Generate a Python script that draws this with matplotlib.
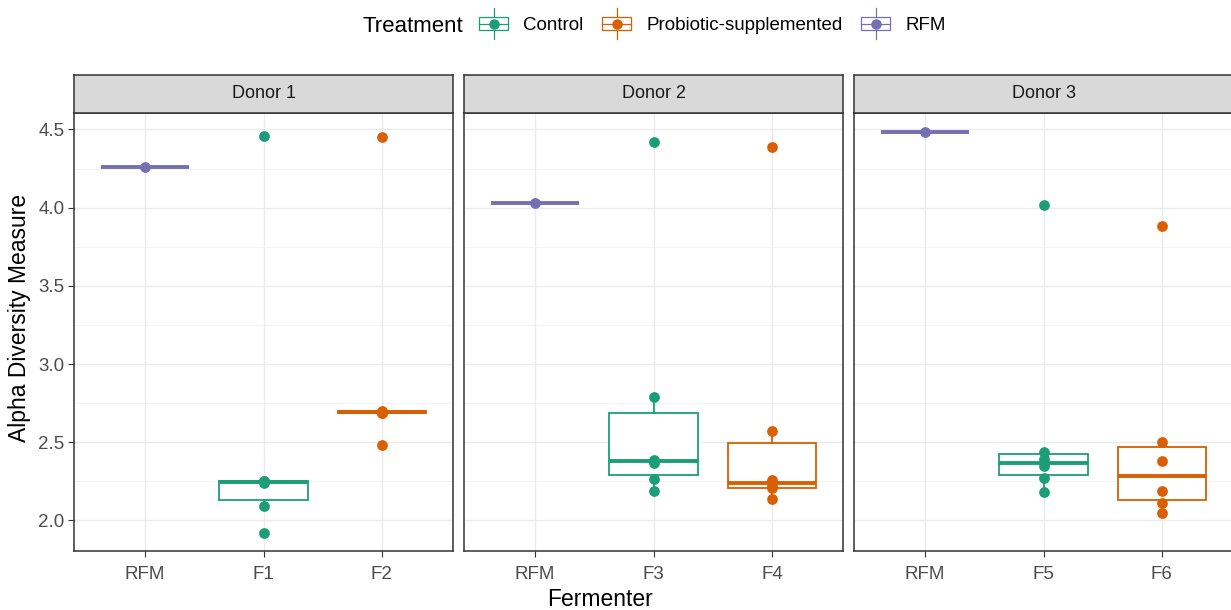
import matplotlib
matplotlib.use("Agg")
import matplotlib.pyplot as plt
from matplotlib.legend_handler import HandlerBase
from matplotlib.patches import Rectangle
from matplotlib.lines import Line2D

plt.rcParams['font.family'] = ['Liberation Sans', 'DejaVu Sans']

donors = ["Donor 1", "Donor 2", "Donor 3"]
fermenters = [["RFM", "F1", "F2"], ["RFM", "F3", "F4"], ["RFM", "F5", "F6"]]
treatments = ["Control", "Probiotic-supplemented", "RFM"]
colors = {"Control": "#1B9E77", "Probiotic-supplemented": "#D95F02", "RFM": "#7570B3"}

# alpha diversity per fermenter
rfm = [4.26, 4.03, 4.485]
f1 = [1.92, 2.095, 2.24, 2.25, 2.255, 4.46]
f2 = [2.48, 2.685, 2.69, 2.695, 2.70, 4.45]
f3 = [2.19, 2.265, 2.37, 2.385, 2.79, 4.42]
f4 = [2.14, 2.205, 2.218, 2.262, 2.57, 4.39]
f5 = [2.18, 2.27, 2.35, 2.39, 2.44, 4.02]
f6 = [2.05, 2.11, 2.19, 2.38, 2.50, 3.88]

panel_data = [
    [([rfm[0]], "RFM"), (f1, "Control"), (f2, "Probiotic-supplemented")],
    [([rfm[1]], "RFM"), (f3, "Control"), (f4, "Probiotic-supplemented")],
    [([rfm[2]], "RFM"), (f5, "Control"), (f6, "Probiotic-supplemented")],
]

yticks = [2.0, 2.5, 3.0, 3.5, 4.0, 4.5]
minor_ticks = [2.25, 2.75, 3.25, 3.75, 4.25]


class BoxKey(HandlerBase):
    def create_artists(self, legend, orig_handle, xdescent, ydescent,
                       width, height, fontsize, trans):
        c = orig_handle.get_color()
        cx = width / 2 - xdescent
        cy = height / 2 - ydescent
        bw, bh = width * 1.0, height * 0.85
        rect = Rectangle((cx - bw / 2, cy - bh / 2), bw, bh, facecolor="white",
                         edgecolor=c, lw=0.9, transform=trans)
        vline = Line2D([cx, cx], [cy - height * 1.0, cy + height * 1.0],
                       color=c, lw=0.9, transform=trans)
        hline = Line2D([cx - bw / 2, cx + bw / 2], [cy, cy], color=c, lw=0.9,
                       transform=trans)
        dot = Line2D([cx], [cy], marker="o", ms=6.5, color=c, mec=c,
                     transform=trans)
        return [vline, rect, hline, dot]


W, H = 1231, 610
fig = plt.figure(figsize=(W / 100, H / 100), dpi=100)

left0 = 74 / W
pw = 379 / W
gap = 11 / W
bottom = 1 - 551 / H
ph = (551 - 113) / H
sh = 38 / H

for i, donor in enumerate(donors):
    x0 = left0 + i * (pw + gap)
    ax = fig.add_axes([x0, bottom, pw, ph])
    for y in yticks:
        ax.axhline(y, color="#EBEBEB", lw=1.0, zorder=0)
    for y in minor_ticks:
        ax.axhline(y, color="#F2F2F2", lw=0.6, zorder=0)
    for p in range(1, 4):
        ax.axvline(p, color="#EBEBEB", lw=1.0, zorder=0)

    for p, (vals, trt) in enumerate(panel_data[i], start=1):
        c = colors[trt]
        ax.boxplot([vals], positions=[p], widths=0.75, showfliers=False,
                   showcaps=False, whis=1.5, patch_artist=True,
                   boxprops=dict(facecolor="white", edgecolor=c, lw=1.3),
                   whiskerprops=dict(color=c, lw=1.3),
                   medianprops=dict(color=c, lw=2.8, solid_capstyle="butt"),
                   zorder=2)
        ax.scatter([p] * len(vals), vals, s=60, color=c, zorder=3, lw=0)

    ax.set_xlim(0.4, 3.6)
    ax.set_ylim(1.805, 4.605)
    ax.set_xticks([1, 2, 3])
    ax.set_xticklabels(fermenters[i])
    ax.set_yticks(yticks)
    if i == 0:
        ax.set_yticklabels([f"{v:.1f}" for v in yticks])
    else:
        ax.tick_params(axis="y", left=False, labelleft=False)
    ax.tick_params(axis="both", colors="#333333", labelcolor="#4D4D4D",
                   labelsize=13.5, length=4, width=0.8)
    ax.tick_params(axis="x", pad=7)
    ax.tick_params(axis="y", pad=3)
    for s in ax.spines.values():
        s.set_color("#333333")
        s.set_linewidth(1.1)

    sax = fig.add_axes([x0, bottom + ph, pw, sh])
    sax.set_facecolor("#D9D9D9")
    sax.set_xticks([])
    sax.set_yticks([])
    for s in sax.spines.values():
        s.set_color("#333333")
        s.set_linewidth(1.1)
    sax.text(0.5, 0.5, donor, ha="center", va="center", fontsize=13,
             color="#1A1A1A", transform=sax.transAxes)

fig.text(600 / W, 1 - 599 / H, "Fermenter", ha="center", va="center",
         fontsize=16.5)
fig.text(20 / W, 1 - 318 / H, "Alpha Diversity Measure", ha="center",
         va="center", rotation=90, fontsize=16.5)

fig.text(463 / W, 1 - 26 / H, "Treatment", ha="right", va="center",
         fontsize=16)
handles = [Line2D([], [], color=colors[t]) for t in treatments]
fig.legend(handles, treatments, handler_map={Line2D: BoxKey()},
           loc="center left", bbox_to_anchor=(479 / W, 1 - 25 / H), ncol=3,
           frameon=False, fontsize=13.5, handlelength=1.55, handleheight=0.9,
           handletextpad=0.8, columnspacing=1.0, borderpad=0, borderaxespad=0)

fig.savefig("out.png", dpi=100)
